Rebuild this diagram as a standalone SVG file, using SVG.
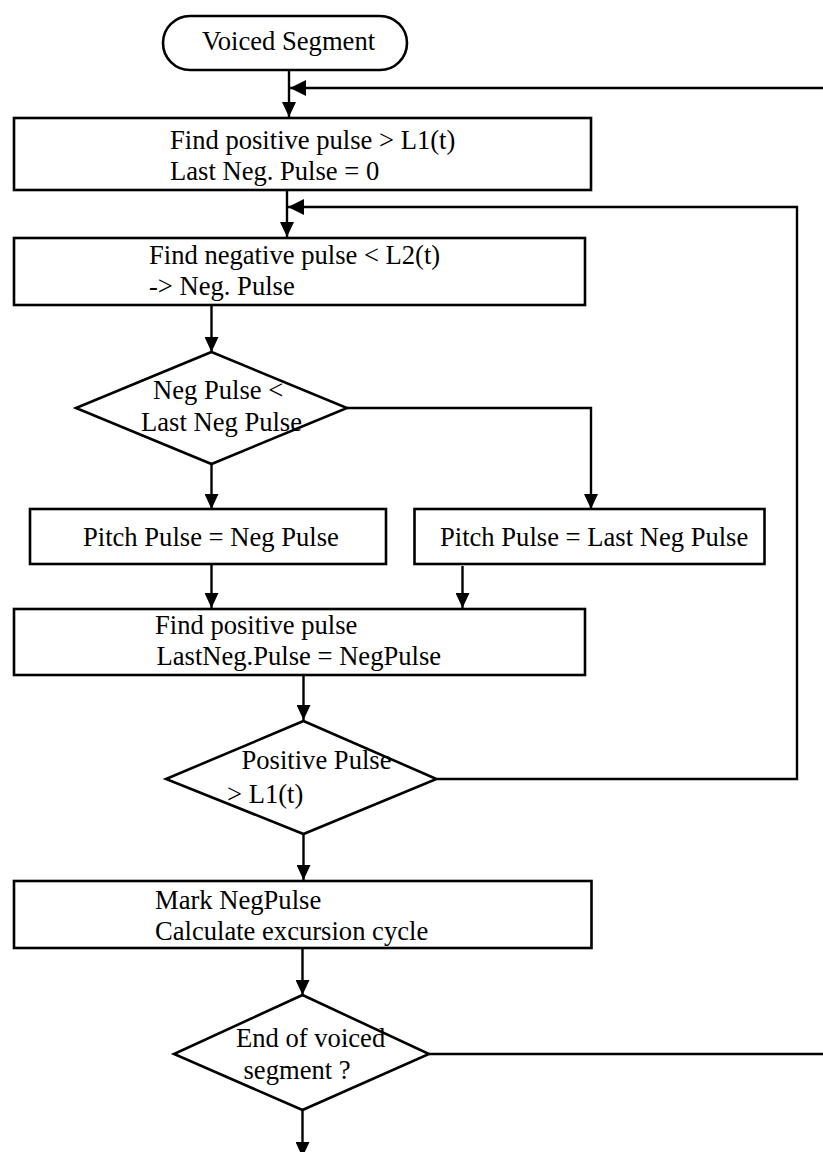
<svg xmlns="http://www.w3.org/2000/svg" width="823" height="1152" viewBox="0 0 823 1152">
<style>
.box{fill:#fff;stroke:#000;stroke-width:2.6}
.ln{fill:none;stroke:#000;stroke-width:2.4}
text{font-family:"Liberation Serif","Times New Roman",serif;font-size:26.6px;fill:#000}
</style>
<defs>
<marker id="ah" markerUnits="userSpaceOnUse" viewBox="0 0 15 14" refX="15" refY="7" markerWidth="15" markerHeight="14" orient="auto">
<path d="M0,0 L15,7 L0,14 Z" fill="#000"/>
</marker>
<marker id="ahL" markerUnits="userSpaceOnUse" viewBox="0 0 16 16" refX="16" refY="8" markerWidth="16" markerHeight="16" orient="auto">
<path d="M0,0 L16,8 L0,16 Z" fill="#000"/>
</marker>
</defs>
<rect width="823" height="1152" fill="#fff"/>
<g id="connectors">
<path class="ln" d="M289,70 V117" marker-end="url(#ah)"/>
<path class="ln" d="M823,88 H290" marker-end="url(#ahL)"/>
<path class="ln" d="M287,190 V237" marker-end="url(#ah)"/>
<path class="ln" d="M437,779 H797 V207 H288" marker-end="url(#ahL)"/>
<path class="ln" d="M211.5,305 V352" marker-end="url(#ah)"/>
<path class="ln" d="M347,408 H591 V509" marker-end="url(#ah)"/>
<path class="ln" d="M211.5,464 V509" marker-end="url(#ah)"/>
<path class="ln" d="M211.5,564 V608" marker-end="url(#ah)"/>
<path class="ln" d="M462.5,566 V608" marker-end="url(#ah)"/>
<path class="ln" d="M303.5,675 V720" marker-end="url(#ah)"/>
<path class="ln" d="M303.5,834 V880" marker-end="url(#ah)"/>
<path class="ln" d="M302.5,948 V995" marker-end="url(#ah)"/>
<path class="ln" d="M429,1054 H823"/>
<path class="ln" d="M302.5,1110 V1157" marker-end="url(#ah)"/>
</g>
<g id="start">
<rect class="box" x="163" y="16" width="244" height="54" rx="27" ry="27"/>
<text x="202" y="50">Voiced Segment</text>
</g>
<g id="box1">
<rect class="box" x="14" y="118" width="577" height="72"/>
<text x="170" y="149">Find positive pulse &gt; L1(t)</text>
<text x="170" y="180">Last Neg. Pulse = 0</text>
</g>
<g id="box2">
<rect class="box" x="14" y="238" width="571" height="67"/>
<text x="149" y="264">Find negative pulse &lt; L2(t)</text>
<text x="149" y="295">-&gt; Neg. Pulse</text>
</g>
<g id="decision1">
<path class="box" d="M211.5,352 L347,408 L211.5,464 L76,408 Z"/>
<text x="153" y="399">Neg Pulse &lt;</text>
<text x="141" y="431">Last Neg Pulse</text>
</g>
<g id="box3a">
<rect class="box" x="30" y="509" width="356" height="55"/>
<text x="83" y="545.5">Pitch Pulse = Neg Pulse</text>
</g>
<g id="box3b">
<rect class="box" x="414.5" y="509" width="350" height="55"/>
<text x="440" y="545.5">Pitch Pulse = Last Neg Pulse</text>
</g>
<g id="box4">
<rect class="box" x="14" y="609" width="571" height="66"/>
<text x="155" y="634">Find positive pulse</text>
<text x="156.5" y="665">LastNeg.Pulse = NegPulse</text>
</g>
<g id="decision2">
<path class="box" d="M303.5,721 L436.5,779 L303.5,834 L166,779 Z"/>
<text x="241.5" y="769">Positive Pulse</text>
<text x="227" y="802.5">&gt; L1(t)</text>
</g>
<g id="box5">
<rect class="box" x="14" y="881" width="577.5" height="67"/>
<text x="155" y="909">Mark NegPulse</text>
<text x="155" y="940">Calculate excursion cycle</text>
</g>
<g id="decision3">
<path class="box" d="M302.5,995 L429,1054 L302.5,1110 L174,1054 Z"/>
<text x="236" y="1047">End of voiced</text>
<text x="243.5" y="1079">segment ?</text>
</g>
</svg>
